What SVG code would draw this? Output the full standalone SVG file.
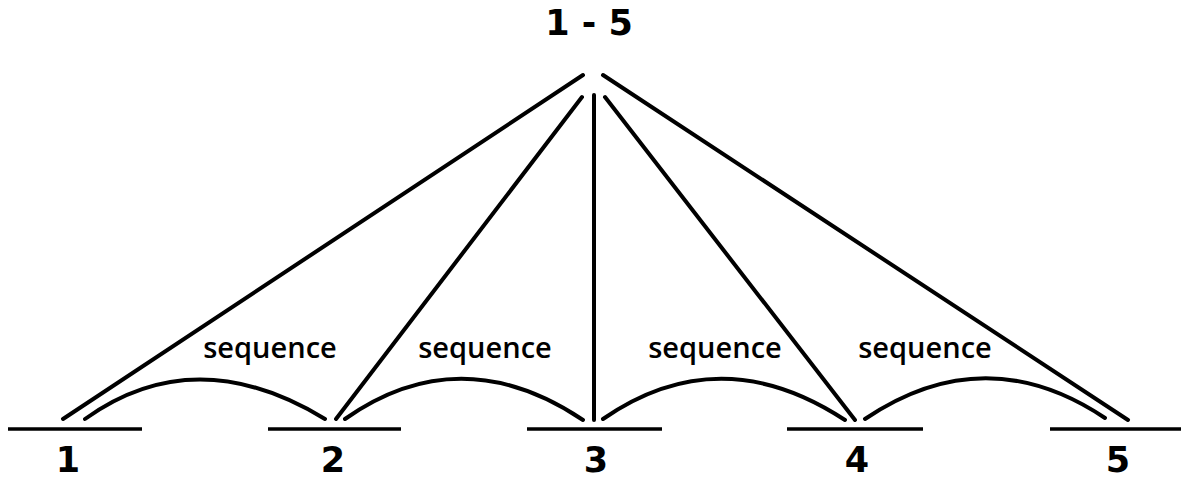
<svg xmlns="http://www.w3.org/2000/svg" width="1183" height="478" viewBox="0 0 1183 478">
<style>
.ln{stroke:#000;stroke-width:4;fill:none;stroke-linecap:round}
.bl{stroke:#000;stroke-width:3.5;fill:none}
.num{font-family:"DejaVu Sans",sans-serif;font-weight:bold;font-size:35px;text-anchor:middle;fill:#000}
.seq{font-family:"Open Sans",sans-serif;font-weight:600;font-size:29px;text-anchor:middle;fill:#000}
</style>
<rect width="1183" height="478" fill="#fff"/>
<g id="root"><text class="num" x="589" y="35">1 - 5</text></g>
<g id="n1"><line class="bl" x1="8" y1="429" x2="142" y2="429"/><text class="num" x="68" y="472">1</text></g>
<g id="n2"><line class="bl" x1="268" y1="429" x2="401" y2="429"/><text class="num" x="333" y="472">2</text></g>
<g id="n3"><line class="bl" x1="527" y1="429" x2="662" y2="429"/><text class="num" x="596" y="472">3</text></g>
<g id="n4"><line class="bl" x1="787" y1="429" x2="923" y2="429"/><text class="num" x="857" y="472">4</text></g>
<g id="n5"><line class="bl" x1="1050" y1="429" x2="1181" y2="429"/><text class="num" x="1118" y="472">5</text></g>
<g id="connectors">
<line class="ln" x1="583" y1="75" x2="63" y2="419"/>
<line class="ln" x1="582" y1="97" x2="336" y2="419"/>
<line class="ln" x1="594" y1="95" x2="594" y2="420"/>
<line class="ln" x1="605" y1="97" x2="855" y2="420"/>
<line class="ln" x1="603" y1="75" x2="1128" y2="420"/>
<path class="ln" d="M85 419 Q195 340 325 419"/>
<path class="ln" d="M345 419 Q460 338 583 420"/>
<path class="ln" d="M603 419 Q720 338 845 420"/>
<path class="ln" d="M865 419 Q985 338 1105 418"/>
</g>
<g id="labels">
<text class="seq" x="270" y="358">sequence</text>
<text class="seq" x="485" y="358">sequence</text>
<text class="seq" x="715" y="358">sequence</text>
<text class="seq" x="925" y="358">sequence</text>
</g>
</svg>
